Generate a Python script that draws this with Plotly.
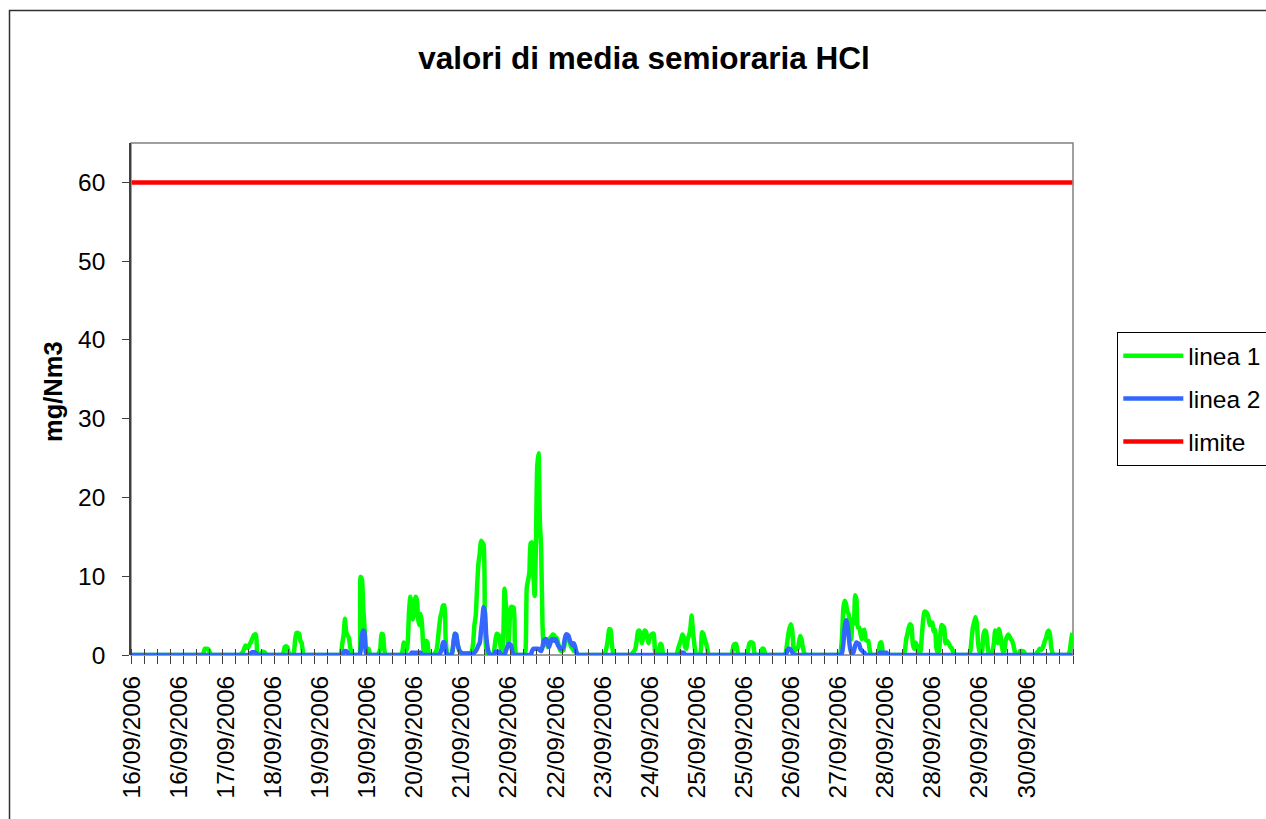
import plotly.graph_objects as go

# ---- data: half-hourly HCl averages (mg/Nm3), 48 values per day, 16/09/2006 .. 30/09/2006 ----
linea1_16 = [0, 0, 0, 0, 0, 0, 0, 0, 0, 0, 0, 0, 0, 0, 0, 0, 0, 0, 0, 0, 0, 0, 0, 0,
             0, 0, 0, 0, 0, 0, 0, 0, 0, 0, 0, 0, 0, 0, 0, 0, 0, 0, 0, 0, 0, 0, 0, 0]
linea1_17 = [0, 0, 0, 0, 0, 0, 0, 0.3, 0.8, 0.8, 0.8, 0.6, 0.2, 0, 0, 0, 0, 0, 0, 0, 0, 0, 0, 0,
             0, 0, 0, 0, 0, 0, 0, 0, 0, 0, 0, 0, 0.2, 0.4, 0.8, 1.2, 1.0, 0.9, 1.3, 1.6, 2.0, 2.4, 2.6, 2.6]
linea1_18 = [0.3, 0, 0, 0.2, 0.4, 0.4, 0.3, 0.1, 0, 0, 0, 0, 0, 0, 0, 0, 0, 0, 0, 0, 0.3, 1.0, 1.1, 1.0,
             0.3, 0, 0, 0, 0.3, 2.0, 2.8, 2.8, 2.7, 1.8, 1.5, 0.3, 0, 0, 0, 0, 0, 0, 0, 0, 0, 0, 0, 0]
linea1_19 = [0, 0, 0, 0, 0, 0, 0, 0, 0, 0, 0, 0, 0, 0, 0, 0, 0.2, 1.5, 2.5, 4.6, 2.9, 2.5, 2.2, 1.0,
             0.3, 0, 0, 0, 0, 0, 0, 9.9, 9.6, 6.0, 3.5, 1.0, 0.8, 0.8, 0.2, 0, 0, 0, 0, 0, 0, 0.3, 0.8, 2.7]
linea1_20 = [2.6, 0.8, 0, 0, 0, 0, 0, 0, 0, 0, 0, 0, 0, 0, 0, 0.5, 1.6, 0.8, 0.5, 1.5, 5.5, 7.4, 6.0, 4.5,
             5.5, 7.4, 7.0, 4.5, 3.8, 5.2, 3.8, 0.8, 0.3, 1.8, 1.6, 0.3, 0, 0, 0, 0, 0.3, 0.6, 1.8, 3.5, 4.8, 5.5, 6.3, 6.3]
linea1_21 = [2.0, 0.3, 0, 0, 0, 0.3, 1.5, 2.7, 2.6, 1.5, 0.8, 0.4, 0.3, 0.2, 0.2, 0.2, 0.2, 0.2, 0.2, 0.2,
             0.5, 1.5, 3.8, 5.0, 8.5, 11.5, 12.8, 14.5, 14.3, 14.0, 4.0, 0.8, 0, 0, 0, 0, 0,
             0.5, 1.8, 2.7, 2.6, 2.4, 1.0, 0.3, 2.0, 8.4, 6.5, 4.8]
linea1_22 = [1.5, 4.5, 6.1, 6.1, 6.0, 1.0, 0, 0, 0, 0, 0, 0, 0, 0.5, 8.5, 9.5, 10.5, 14.2, 14.3, 10.5,
             7.5, 14.0, 24.0, 25.6, 17.0, 13.5, 4.0, 1.2, 1.5, 2.0, 1.0, 1.5, 2.2, 2.4, 2.6, 2.5,
             1.8, 2.2, 1.5, 0.8, 0.5, 0.5, 0.6, 1.5, 2.2, 2.4, 2.0, 1.5]
linea1_23 = [1.0, 0.8, 0.5, 0.5, 0.3, 0, 0, 0, 0, 0, 0, 0, 0, 0, 0, 0, 0, 0, 0, 0, 0, 0, 0, 0,
             0, 0, 0.3, 1.0, 2.0, 3.3, 3.2, 1.5, 0.3, 0, 0, 0, 0, 0, 0, 0, 0, 0, 0, 0, 0, 0, 0, 0.3]
linea1_24 = [0.5, 0.8, 1.8, 3.0, 3.1, 2.6, 1.5, 2.2, 3.1, 3.0, 2.4, 1.5, 2.2, 2.5, 2.7, 2.7, 0.5, 0, 0,
             0.5, 1.4, 1.3, 0.3, 0, 0, 0, 0, 0, 0, 0, 0, 0, 0,
             0.3, 1.0, 1.5, 2.0, 2.6, 2.2, 1.0, 0.8, 2.0, 2.5, 3.3, 5.0, 3.0, 1.5, 0.3]
linea1_25 = [0, 0, 0, 0.5, 2.9, 2.7, 2.0, 1.5, 0.8, 0, 0, 0, 0, 0, 0, 0, 0, 0, 0, 0, 0, 0, 0, 0,
             0, 0, 0, 0.3, 1.2, 1.4, 1.4, 0.5, 0, 0, 0, 0, 0, 0, 0, 0.5, 1.4, 1.6, 1.6, 1.5, 0.3, 0, 0, 0]
linea1_26 = [0, 0, 0.8, 0.8, 0.3, 0, 0, 0, 0, 0, 0, 0, 0, 0, 0, 0, 0, 0, 0, 0, 0.3, 1.5, 2.7, 3.5,
             3.9, 3.0, 0.8, 0.5, 0.8, 0.8, 1.5, 2.4, 2.0, 1.0, 0.3, 0, 0, 0, 0, 0, 0, 0, 0, 0, 0, 0, 0, 0]
linea1_27 = [0, 0, 0, 0, 0, 0, 0, 0, 0, 0, 0, 0, 0, 0, 0.5, 2.5, 6.0, 6.9, 6.5, 5.5, 5.2, 3.0, 2.0, 4.5,
             4.0, 7.6, 7.0, 3.5, 3.5, 2.8, 2.0, 3.0, 3.2, 2.0, 1.8, 1.8, 0.8, 0, 0, 0, 0, 0, 0, 0.5, 1.5, 1.6, 0.5, 0]
linea1_28 = [0, 0, 0, 0, 0, 0, 0, 0, 0, 0, 0, 0, 0, 0, 0, 0.5, 2.0, 2.7, 3.5, 3.9, 3.7, 1.5, 0.8, 1.6,
             1.3, 0.4, 0.2, 0.5, 2.5, 4.5, 5.5, 5.5, 5.3, 4.8, 3.8, 4.1, 4.1, 3.0, 3.2, 1.0, 0.3, 0.5, 2.5, 3.8, 3.7, 3.5, 1.5, 1.8]
linea1_29 = [1.6, 1.3, 1.0, 0.8, 0.3, 0, 0, 0, 0, 0, 0, 0, 0, 0, 0, 0, 0, 0.5, 2.0, 3.5, 4.2, 4.8, 4.0, 1.5,
             0.5, 0.3, 0.5, 2.5, 3.1, 3.0, 1.5, 0.3, 0, 0.2, 0.5, 1.5, 3.1, 2.0, 1.5, 3.3, 2.5, 1.5, 0.3, 0.5, 1.8, 2.3, 2.6, 2.4]
linea1_30 = [2.0, 1.8, 1.2, 0.5, 0, 0, 0, 0.5, 0.5, 0.5, 0.4, 0, 0, 0, 0, 0, 0, 0, 0, 0, 0.3, 0.5, 0.8, 0.6,
             0.8, 1.2, 1.8, 2.2, 2.9, 3.1, 2.5, 0.8, 0.2, 0, 0, 0, 0, 0, 0, 0, 0, 0, 0, 0, 0, 0.5, 1.8, 2.8]

linea2_16 = [0, 0, 0, 0, 0, 0, 0, 0, 0, 0, 0, 0, 0, 0, 0, 0, 0, 0, 0, 0, 0, 0, 0, 0,
             0, 0, 0, 0, 0, 0, 0, 0, 0, 0, 0, 0, 0, 0, 0, 0, 0, 0, 0, 0, 0, 0, 0, 0]
linea2_17 = [0, 0, 0, 0, 0, 0, 0, 0, 0, 0, 0, 0, 0, 0, 0, 0, 0, 0, 0, 0, 0, 0, 0, 0,
             0, 0, 0, 0, 0, 0, 0, 0, 0, 0, 0, 0, 0, 0, 0, 0, 0, 0, 0, 0.2, 0.35, 0.35, 0.35, 0.2]
linea2_18 = [0, 0, 0, 0, 0, 0, 0, 0, 0, 0, 0, 0, 0, 0, 0, 0, 0, 0, 0, 0, 0, 0, 0, 0,
             0, 0, 0, 0, 0, 0, 0, 0, 0, 0, 0, 0, 0, 0, 0, 0, 0, 0, 0, 0, 0, 0, 0, 0]
linea2_19 = [0, 0, 0, 0, 0, 0, 0, 0, 0, 0, 0, 0, 0, 0, 0, 0, 0, 0, 0.3, 0.5, 0.5, 0.3, 0, 0,
             0, 0, 0, 0, 0, 0, 0, 0.5, 2.5, 3.1, 2.8, 0.3, 0, 0, 0, 0, 0, 0, 0, 0, 0, 0, 0, 0]
linea2_20 = [0, 0, 0, 0, 0, 0, 0, 0, 0, 0, 0, 0, 0, 0, 0, 0, 0, 0, 0, 0, 0, 0, 0.3, 0.3,
             0.3, 0.3, 0.3, 0.3, 0.3, 0.3, 0, 0, 0, 0, 0, 0, 0, 0, 0, 0, 0, 0, 0, 0, 0.3, 0.8, 1.6, 1.6]
linea2_21 = [0.5, 0, 0, 0, 0, 0.3, 1.5, 2.7, 2.6, 1.5, 0.8, 0.4, 0.3, 0.2, 0.2, 0.2, 0.2, 0.2, 0.2, 0.2,
             0.2, 0.2, 0.3, 0.5, 0.8, 1.2, 1.5, 3.0, 4.5, 6.1, 5.5, 2.5, 1.0, 0.3, 0, 0, 0, 0,
             0.4, 0.4, 0.4, 0.4, 0, 0, 0, 0, 0.5, 1.0]
linea2_22 = [1.4, 1.4, 1.2, 0.4, 0, 0, 0, 0, 0, 0, 0, 0, 0, 0, 0, 0, 0, 0, 0.5, 0.8, 0.8, 0.8, 0.8, 0.8,
             0.6, 0.5, 1.0, 1.8, 2.0, 2.0, 1.5, 1.0, 1.5, 2.0, 2.0, 1.8, 2.0, 1.6, 1.2, 1.0, 0.8, 0.8,
             1.0, 2.0, 2.6, 2.6, 2.4, 1.8]
linea2_23 = [1.5, 1.2, 1.5, 1.0, 0.3, 0, 0, 0, 0, 0, 0, 0, 0, 0, 0, 0, 0, 0, 0, 0, 0, 0, 0, 0,
             0, 0, 0, 0, 0, 0, 0, 0, 0, 0, 0, 0, 0, 0, 0, 0, 0, 0, 0, 0, 0, 0, 0, 0]
linea2_24 = [0, 0, 0, 0, 0, 0, 0, 0, 0, 0, 0, 0, 0, 0, 0, 0, 0, 0, 0, 0, 0, 0, 0, 0,
             0, 0, 0, 0, 0, 0, 0, 0, 0, 0, 0, 0, 0.3, 0.3, 0.3, 0, 0, 0, 0, 0, 0, 0, 0, 0]
linea2_25 = [0, 0, 0, 0, 0, 0, 0, 0, 0, 0, 0, 0, 0, 0, 0, 0, 0, 0, 0, 0, 0, 0, 0, 0,
             0, 0, 0, 0, 0, 0, 0, 0, 0, 0, 0, 0, 0, 0, 0, 0, 0, 0, 0, 0, 0, 0, 0, 0]
linea2_26 = [0, 0, 0, 0, 0, 0, 0, 0, 0, 0, 0, 0, 0, 0, 0, 0, 0, 0, 0, 0, 0, 0.5, 0.8, 0.8,
             0.6, 0.3, 0, 0, 0, 0, 0, 0, 0, 0, 0, 0, 0, 0, 0, 0, 0, 0, 0, 0, 0, 0, 0, 0]
linea2_27 = [0, 0, 0, 0, 0, 0, 0, 0, 0, 0, 0, 0, 0, 0, 0, 0.3, 1.5, 3.5, 4.4, 4.0, 2.5, 1.0, 0.3, 0.2,
             0.5, 1.2, 1.6, 1.5, 1.4, 0.8, 0.6, 0.4, 0.3, 0, 0, 0, 0, 0, 0, 0, 0, 0, 0, 0, 0.3, 0.3, 0.3, 0.3]
linea2_28 = [0.3, 0.3, 0, 0, 0, 0, 0, 0, 0, 0, 0, 0, 0, 0, 0, 0, 0, 0, 0, 0, 0, 0, 0, 0,
             0, 0, 0, 0, 0, 0, 0, 0, 0, 0, 0, 0, 0, 0, 0, 0, 0, 0, 0, 0, 0, 0, 0, 0]
linea2_29 = [0, 0, 0, 0, 0, 0, 0, 0, 0, 0, 0, 0, 0, 0, 0, 0, 0, 0, 0, 0, 0, 0, 0, 0,
             0, 0, 0, 0, 0, 0, 0, 0, 0, 0, 0, 0, 0, 0, 0, 0, 0, 0, 0, 0, 0, 0, 0, 0]
linea2_30 = [0, 0, 0, 0, 0, 0, 0, 0, 0, 0, 0, 0, 0, 0, 0, 0, 0, 0, 0, 0, 0, 0, 0, 0,
             0, 0, 0, 0, 0, 0, 0, 0, 0, 0, 0, 0, 0, 0, 0, 0, 0, 0, 0, 0, 0, 0, 0, 0]

limite_valore = 60

tick_labels = ["16/09/2006", "16/09/2006", "17/09/2006", "18/09/2006", "19/09/2006",
               "19/09/2006", "20/09/2006", "21/09/2006", "22/09/2006", "22/09/2006",
               "23/09/2006", "24/09/2006", "25/09/2006", "25/09/2006", "26/09/2006",
               "27/09/2006", "28/09/2006", "28/09/2006", "29/09/2006", "30/09/2006"]
label_every = 36      # one date label every 36 half-hours (18 h)
tick_every = 10       # one tick mark every 10 categories

linea1 = (linea1_16 + linea1_17 + linea1_18 + linea1_19 + linea1_20 + linea1_21 + linea1_22 +
          linea1_23 + linea1_24 + linea1_25 + linea1_26 + linea1_27 + linea1_28 + linea1_29 + linea1_30)
linea2 = (linea2_16 + linea2_17 + linea2_18 + linea2_19 + linea2_20 + linea2_21 + linea2_22 +
          linea2_23 + linea2_24 + linea2_25 + linea2_26 + linea2_27 + linea2_28 + linea2_29 + linea2_30)
n = len(linea1)
xs = list(range(n))
limite = [limite_valore] * n

FONT = "Liberation Sans, Arial, sans-serif"

fig = go.Figure()
fig.add_trace(go.Scatter(x=xs, y=linea1, mode="lines", name="linea 1", legendgroup="a",
                         line=dict(color="#00FF00", width=4.5, shape="spline", smoothing=0.6)))
fig.add_trace(go.Scatter(x=xs, y=linea2, mode="lines", name="linea 2", legendgroup="b",
                         line=dict(color="#3366FF", width=4.5, shape="spline", smoothing=0.6)))
fig.add_trace(go.Scatter(x=xs, y=limite, mode="lines", name="limite", legendgroup="c",
                         line=dict(color="#FF0000", width=4.5)))
# helper (empty) trace so the overlay axis carrying the inner tick halves is drawn
fig.add_trace(go.Scatter(x=[], y=[], xaxis="x2", showlegend=False, hoverinfo="skip"))

L, R, T, B = 131, 1266 - 1073, 143, 819 - 655
PW, PH = 1266 - L - R, 819 - T - B

def px_x(p):
    return (p - L) / PW

def px_y(p):
    return (819 - B - p) / PH

xrange_ = [-0.5, n - 0.5]
fig.update_layout(
    width=1266, height=819,
    margin=dict(l=L, r=R, t=T, b=B, autoexpand=False),
    paper_bgcolor="white", plot_bgcolor="white",
    font=dict(family=FONT, size=24.5, color="black"),
    title=dict(text="valori di media semioraria HCl", x=644 / 1266, xanchor="center",
               y=1 - 58 / 819, yanchor="middle", xref="container", yref="container",
               font=dict(family=FONT, size=31.5, color="black", weight="bold")),
    xaxis=dict(range=xrange_, showgrid=False, zeroline=False, showline=False,
               tickmode="array", tickvals=[i * label_every for i in range(len(tick_labels))],
               ticktext=tick_labels, tickangle=-90, ticks="outside", ticklen=8,
               tickcolor="rgba(0,0,0,0)", ticklabelstandoff=2,
               tickfont=dict(family=FONT, size=24.5, color="black"),
               minor=dict(tickmode="linear", tick0=-0.5, dtick=tick_every, ticks="outside",
                          ticklen=8, tickwidth=1.3, tickcolor="#404040", showgrid=False)),
    xaxis2=dict(range=xrange_, overlaying="x", anchor="y", showgrid=False, zeroline=False,
                showline=False, showticklabels=False, tickmode="array", tickvals=[], ticks="",
                minor=dict(tickmode="linear", tick0=-0.5, dtick=tick_every, ticks="inside",
                           ticklen=6, tickwidth=1.3, tickcolor="#404040", showgrid=False)),
    yaxis=dict(range=[0, 65], tickmode="array", tickvals=[0, 10, 20, 30, 40, 50, 60],
               showgrid=False, zeroline=False, showline=True, linecolor="#404040", linewidth=1.5,
               ticks="outside", ticklen=7, tickwidth=1.3, tickcolor="#404040",
               ticklabelstandoff=12, tickfont=dict(family=FONT, size=24.5, color="black")),
    legend=dict(x=1117 / 1266, y=1 - 332 / 819, xref="container", yref="container",
                xanchor="left", yanchor="top", bgcolor="white", bordercolor="black",
                borderwidth=1.3, traceorder="grouped", tracegroupgap=8, itemwidth=60,
                font=dict(family=FONT, size=24.5, color="black")),
    showlegend=True,
    shapes=[
        # plot-area frame
        dict(type="rect", xref="x domain", yref="y domain", x0=0, x1=1, y0=0, y1=1,
             line=dict(color="#808080", width=1.5), layer="below"),
        # outer chart frame
        dict(type="rect", xref="paper", yref="paper", x0=px_x(9.5), x1=px_x(1300),
             y0=px_y(860), y1=px_y(10.5), line=dict(color="#303030", width=1.5), layer="below"),
    ],
    annotations=[
        dict(text="<b>mg/Nm3</b>", xref="paper", yref="paper", x=px_x(53), y=px_y(392),
             xanchor="center", yanchor="middle", textangle=-90, showarrow=False,
             font=dict(family=FONT, size=25.5, color="black")),
    ],
)

fig.write_html("out.html", config={"displayModeBar": False},
               post_script="document.body.style.margin='0';document.body.style.padding='0';")
